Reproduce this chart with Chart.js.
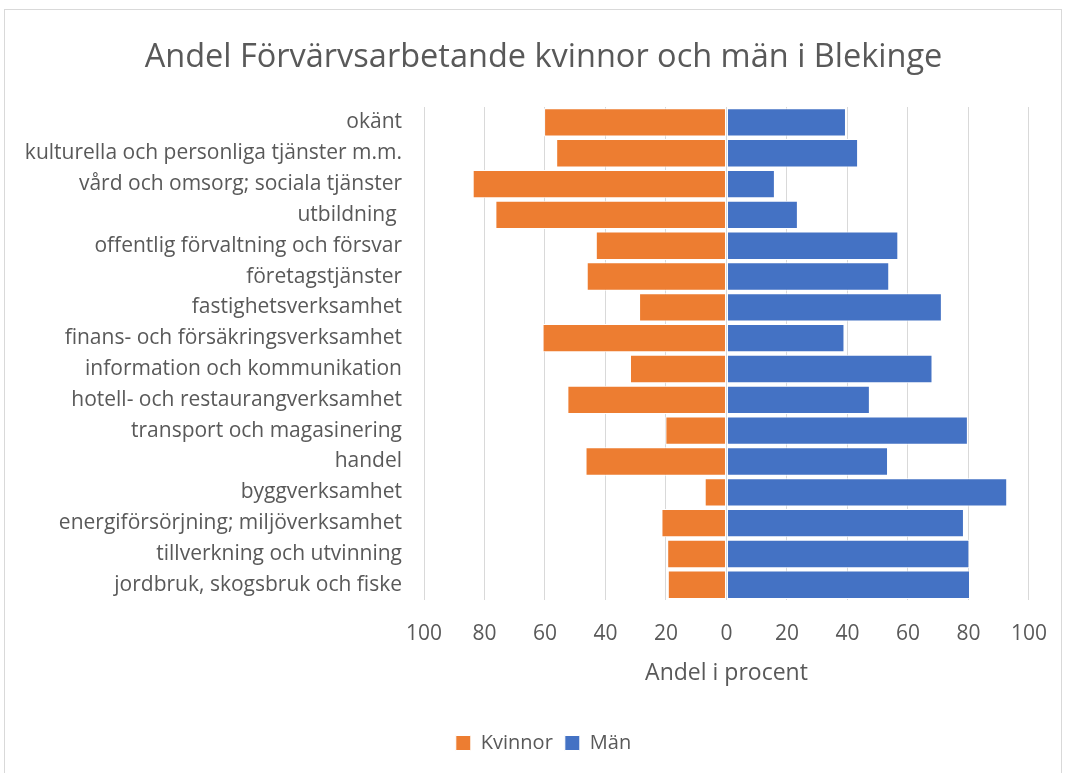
<!DOCTYPE html>
<html>
<head>
<meta charset="utf-8">
<script src="https://cdn.jsdelivr.net/npm/chart.js@4"></script>
<style>
  body { margin: 0; background: #fff; }
  #frame {
    position: absolute; left: 4px; top: 9px; width: 1058px; height: 780px;
    border: 1px solid #d9d9d9; box-sizing: border-box;
  }
  #chart { position: absolute; left: 0; top: 0; }
</style>
</head>
<body>
<div id="frame"></div>
<canvas id="chart" width="1068" height="773"></canvas>
<script>
const categories = [
  "okänt",
  "kulturella och personliga tjänster m.m.",
  "vård och omsorg; sociala tjänster",
  "utbildning ",
  "offentlig förvaltning och försvar",
  "företagstjänster",
  "fastighetsverksamhet",
  "finans- och försäkringsverksamhet",
  "information och kommunikation",
  "hotell- och restaurangverksamhet",
  "transport och magasinering",
  "handel",
  "byggverksamhet",
  "energiförsörjning; miljöverksamhet",
  "tillverkning och utvinning",
  "jordbruk, skogsbruk och fiske",
];
const kvinnor = [60.3, 56.3, 83.9, 76.4, 43.2, 46.2, 28.9, 60.8, 31.9, 52.6, 20.2, 46.6, 7.2, 21.5, 19.6, 19.4];
const man = [39.5, 43.5, 16.0, 23.6, 56.8, 53.8, 71.2, 39.0, 68.1, 47.4, 79.8, 53.4, 92.8, 78.5, 80.3, 80.5];
const tickValues = [-100, -80, -60, -40, -20, 0, 20, 40, 60, 80, 100];

const FONT = "'Open Sans', sans-serif";
const TEXT = "#595959";

// title and legend sit a bit right of centre in the original
const shiftHeader = {
  id: "shiftHeader",
  afterLayout(chart) {
    const dx = 18;
    [chart.titleBlock, chart.legend].forEach((box) => {
      if (box) {
        box.left += dx;
        box.right += dx;
      }
    });
  },
};

new Chart(document.getElementById("chart"), {
  type: "bar",
  data: {
    labels: categories,
    datasets: [
      {
        label: "Kvinnor",
        data: kvinnor.map((v) => -v),
        backgroundColor: "#ED7D31",
        borderColor: "#ffffff",
        borderWidth: 1,
        borderSkipped: false,
        barPercentage: 0.92,
        categoryPercentage: 1,
      },
      {
        label: "Män",
        data: man,
        backgroundColor: "#4472C4",
        borderColor: "#ffffff",
        borderWidth: 1,
        borderSkipped: false,
        barPercentage: 0.92,
        categoryPercentage: 1,
      },
    ],
  },
  options: {
    indexAxis: "y",
    responsive: false,
    animation: false,
    layout: { padding: { left: 10, right: 27, top: 0, bottom: 10 } },
    plugins: {
      title: {
        display: true,
        text: "Andel Förvärvsarbetande kvinnor och män i Blekinge",
        color: TEXT,
        font: { family: FONT, size: 32.5, weight: "normal", lineHeight: 1.2 },
        padding: { top: 38, bottom: 30 },
      },
      legend: {
        position: "bottom",
        labels: {
          color: TEXT,
          font: { family: FONT, size: 20 },
          boxWidth: 15,
          boxHeight: 15,
          padding: 12,
        },
      },
      tooltip: { enabled: false },
    },
    scales: {
      x: {
        stacked: true,
        min: -100,
        max: 100,
        afterBuildTicks: (scale) => {
          scale.ticks = tickValues.map((v) => ({ value: v }));
        },
        ticks: {
          callback: (v) => Math.abs(v),
          color: TEXT,
          font: { family: FONT, size: 21 },
          padding: 21,
        },
        grid: { color: "#d9d9d9", drawTicks: false },
        border: { display: false },
        title: {
          display: true,
          text: "Andel i procent",
          color: TEXT,
          font: { family: FONT, size: 23 },
          padding: { top: -8, bottom: 34 },
        },
      },
      y: {
        stacked: true,
        afterFit: (scale) => {
          scale.width = 414;
        },
        ticks: {
          color: TEXT,
          font: { family: FONT, size: 21 },
          padding: 22,
        },
        grid: { display: false, drawTicks: false },
        border: { display: false },
      },
    },
  },
  plugins: [shiftHeader],
});
</script>
</body>
</html>
